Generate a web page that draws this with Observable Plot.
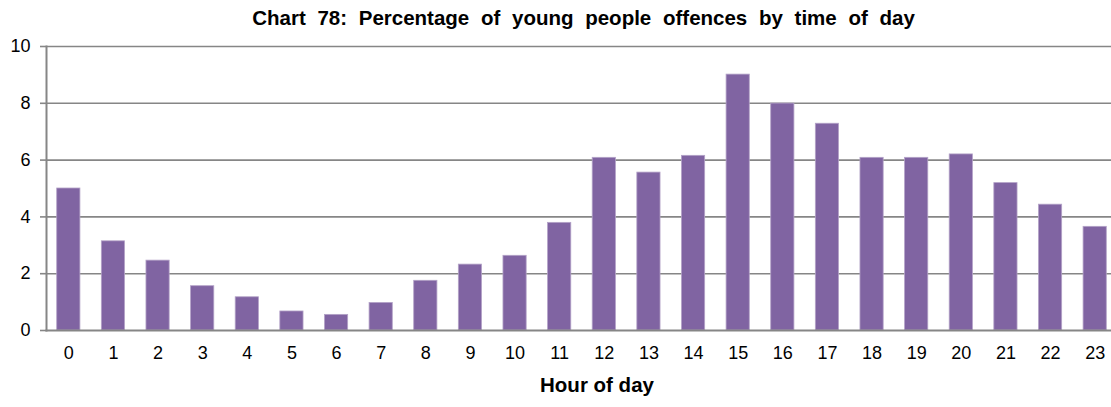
<!DOCTYPE html>
<html>
<head>
<meta charset="utf-8">
<script src="https://cdn.jsdelivr.net/npm/d3@7"></script>
<script src="https://cdn.jsdelivr.net/npm/@observablehq/plot@0.6"></script>
<style>
  html, body { margin: 0; padding: 0; background: #fff; }
  body { width: 1111px; height: 407px; overflow: hidden; font-family: "Liberation Sans", Arial, sans-serif; }
  #title { height: 32px; line-height: 36px; font-size: 20.5px; font-weight: bold; text-align: center; padding-left: 56px; box-sizing: border-box; width: 1111px; word-spacing: 6px; color: #000; white-space: nowrap; }
  svg { display: block; }
</style>
</head>
<body>
<div id="title"></div>
<div id="chart"></div>
<script>
const titleText = "Chart 78: Percentage of young people offences by time of day";
const xLabel = "Hour of day";
const hours = ["0","1","2","3","4","5","6","7","8","9","10","11","12","13","14","15","16","17","18","19","20","21","22","23"];
const percentages = [5.0, 3.14, 2.46, 1.56, 1.17, 0.67, 0.55, 0.97, 1.75, 2.32, 2.63, 3.79, 6.08, 5.56, 6.15, 9.01, 7.99, 7.28, 6.08, 6.08, 6.2, 5.19, 4.43, 3.65];
const yTicks = [0, 2, 4, 6, 8, 10];

document.getElementById("title").textContent = titleText;
const data = hours.map((h, i) => ({hour: h, value: percentages[i]}));

const chart = Plot.plot({
  width: 1111,
  height: 375,
  marginTop: 14,
  marginBottom: 77,
  marginLeft: 46,
  marginRight: 0,
  style: {fontFamily: "'Liberation Sans', Arial, sans-serif", fontSize: "18px", color: "#000", background: "#fff"},
  x: {domain: hours, range: [46, 1117], round: false, paddingInner: 0.48, paddingOuter: 0.24, label: null},
  y: {domain: [0, 10], label: null},
  marks: [
    Plot.gridY(yTicks.slice(1), {stroke: "#868686", strokeOpacity: 1, strokeWidth: 1.6}),
    Plot.barY(data, {x: "hour", y: "value", fill: "#8064A2", stroke: "#B3A2C7", strokeWidth: 0.8}),
    Plot.axisY(yTicks, {tickSize: 6, tickPadding: 10, stroke: "#868686", strokeWidth: 1.6, fill: "#000", fontSize: 18, label: null}),
    Plot.axisX({tickSize: 0, tickPadding: 16, fill: "#000", fontSize: 18, label: null}),
    Plot.frame({anchor: "left", stroke: "#868686", strokeWidth: 2}),
    Plot.frame({anchor: "bottom", stroke: "#868686", strokeWidth: 2}),
    Plot.text([xLabel], {frameAnchor: "bottom", dx: 18, dy: 61, fontWeight: "bold", fontSize: 20.5, fill: "#000"})
  ]
});
document.getElementById("chart").appendChild(chart);
</script>
</body>
</html>
